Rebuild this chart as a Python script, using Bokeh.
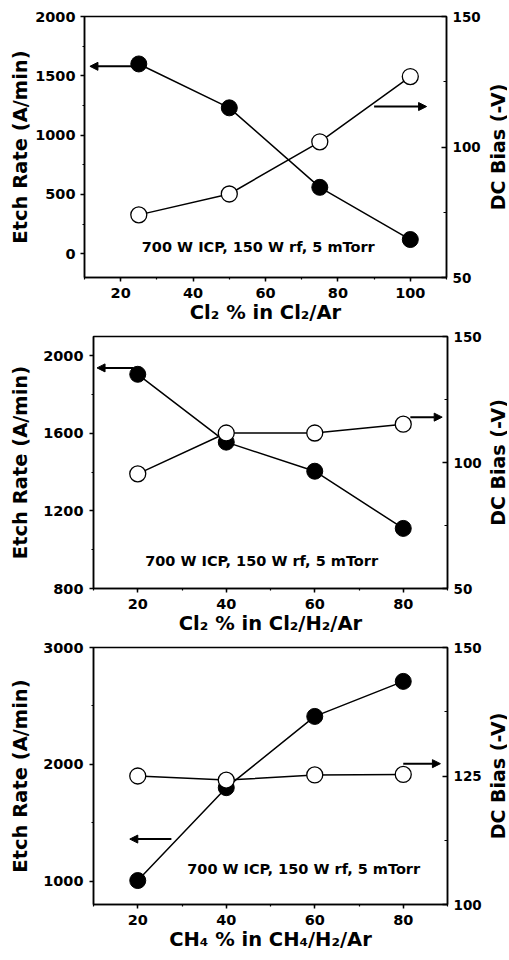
import math
from bokeh.plotting import figure
from bokeh.layouts import row
from bokeh.models import Range1d, LinearAxis, SingleIntervalTicker, Arrow, NormalHead
from bokeh.core.properties import value
from bokeh.embed import file_html
from bokeh.resources import INLINE

# ---------------- data ----------------
note = "700 W ICP, 150 W rf, 5 mTorr"
left_title = "Etch Rate (A/min)"
right_title = "DC Bias (-V)"

# panel 1: Cl2 % in Cl2/Ar
p1_x = [25, 50, 75, 100]
p1_etch = [1600, 1230, 560, 120]
p1_bias = [74, 82, 102, 127]

# panel 2: Cl2 % in Cl2/H2/Ar
p2_x = [20, 40, 60, 80]
p2_etch = [1905, 1555, 1405, 1110]
p2_bias = [95.5, 111.7, 111.7, 115.2]

# panel 3: CH4 % in CH4/H2/Ar
p3_x = [20, 40, 60, 80]
p3_etch = [1005, 1800, 2410, 2710]
p3_bias = [125.0, 124.2, 125.2, 125.3]

# arrows (x_start, x_end, y) in data units
p1_arrow_left = (23.6, 11.5, 1580)
p1_arrow_right = (90, 104.5, 115.5)
p2_arrow_left = (19, 10.8, 1938)
p2_arrow_right = (81.6, 88.8, 118)
p3_arrow_left = (27.6, 18.2, 1360)
p3_arrow_right = (80, 88.4, 127.4)

FONT = "DejaVu Sans"
STRIP_W = 20


def panel(xs, etch, bias, xr, yl, yr, xint, yint, rint, xlabel,
          arr_l, arr_r, note_xy, width, fh, mb_left, mb_right, mb_top, mb_bottom,
          ylab_standoff, ytick_standoff):
    height = mb_top + fh + mb_bottom
    p = figure(width=width, height=height, x_range=Range1d(*xr), y_range=Range1d(*yl),
               output_backend="svg", toolbar_location=None,
               min_border_left=mb_left, min_border_right=mb_right,
               min_border_top=mb_top, min_border_bottom=mb_bottom)
    p.background_fill_color = "white"
    p.border_fill_color = "white"
    p.outline_line_color = "black"
    p.outline_line_width = 1.5
    p.xgrid.visible = False
    p.ygrid.visible = False

    p.extra_y_ranges = {"bias": Range1d(*yr)}
    raxis = LinearAxis(y_range_name="bias",
                       ticker=SingleIntervalTicker(interval=rint, num_minor_ticks=2))
    p.add_layout(raxis, "right")

    p.xaxis.ticker = SingleIntervalTicker(interval=xint, num_minor_ticks=2)
    p.yaxis[0].ticker = SingleIntervalTicker(interval=yint, num_minor_ticks=2)
    p.xaxis.axis_label = xlabel
    p.yaxis[0].axis_label = left_title

    for ax in [p.xaxis[0], p.yaxis[0], raxis]:
        ax.axis_line_width = 1.5
        ax.axis_line_color = "black"
        ax.major_tick_line_width = 1.5
        ax.minor_tick_line_width = 1.2
        ax.major_label_text_font = FONT
        ax.major_label_text_font_style = "bold"
        ax.major_label_text_font_size = "14.5px"
        ax.major_label_text_color = "black"
        ax.axis_label_text_font = FONT
        ax.axis_label_text_font_style = "bold"
        ax.axis_label_text_font_size = "19.5px"
        ax.axis_label_text_color = "black"

    p.xaxis.major_tick_in = 0
    p.xaxis.major_tick_out = 4
    p.xaxis.minor_tick_in = 0
    p.xaxis.minor_tick_out = 2
    p.xaxis.major_label_standoff = 6
    p.xaxis.axis_label_standoff = 0

    ly = p.yaxis[0]
    ly.major_tick_in = 0
    ly.major_tick_out = 4
    ly.minor_tick_in = 0
    ly.minor_tick_out = 2
    ly.major_label_standoff = ytick_standoff
    ly.axis_label_standoff = ylab_standoff

    raxis.major_tick_in = 5
    raxis.major_tick_out = 0
    raxis.minor_tick_in = 3
    raxis.minor_tick_out = 0
    raxis.major_label_standoff = 6
    raxis.major_label_text_font_size = "13.5px"

    # etch rate (filled)
    p.line(xs, etch, line_color="black", line_width=1.5)
    p.scatter(xs, etch, size=16, fill_color="black", line_color="black")
    # dc bias (open)
    p.line(xs, bias, line_color="black", line_width=1.5, y_range_name="bias")
    p.scatter(xs, bias, size=16, fill_color="white", line_color="black",
              line_width=1.3, y_range_name="bias")

    p.add_layout(Arrow(end=NormalHead(size=8, fill_color="black", line_color="black"),
                       x_start=arr_l[0], x_end=arr_l[1], y_start=arr_l[2], y_end=arr_l[2],
                       line_width=2, line_color="black"))
    p.add_layout(Arrow(end=NormalHead(size=8, fill_color="black", line_color="black"),
                       x_start=arr_r[0], x_end=arr_r[1], y_start=arr_r[2], y_end=arr_r[2],
                       line_width=2, line_color="black", y_range_name="bias"))

    p.text(x=[note_xy[0]], y=[note_xy[1]], text=[note], text_font=value(FONT),
           text_font_style="bold", text_font_size="14.5px", text_color="black",
           text_align="center", text_baseline="middle")

    # strip holding the right-hand axis title, reading bottom-to-top
    s = figure(width=STRIP_W, height=height, x_range=Range1d(0, 1), y_range=Range1d(0, 1),
               output_backend="svg", toolbar_location=None,
               min_border_left=0, min_border_right=0,
               min_border_top=mb_top, min_border_bottom=mb_bottom)
    s.axis.visible = False
    s.xgrid.visible = False
    s.ygrid.visible = False
    s.outline_line_color = None
    s.background_fill_color = "white"
    s.border_fill_color = "white"
    s.text(x=[0.5], y=[0.5], text=[right_title], angle=math.pi / 2,
           text_font=value(FONT), text_font_style="bold", text_font_size="19px",
           text_color="black", text_align="center", text_baseline="middle")
    return row(p, s, spacing=0)


r1 = panel(p1_x, p1_etch, p1_bias, (10, 110), (-200, 2000), (50, 150), 20, 500, 50,
           "Cl\u2082 % in Cl\u2082/Ar", p1_arrow_left, p1_arrow_right, (58, 60),
           487, 261, 84, 41, 16, 53, 0, 5)
r2 = panel(p2_x, p2_etch, p2_bias, (10, 90), (800, 2100), (50, 150), 20, 400, 50,
           "Cl\u2082 % in Cl\u2082/H\u2082/Ar", p2_arrow_left, p2_arrow_right, (48, 940),
           487, 252, 93, 40, 6, 53, 8, 6)
r3 = panel(p3_x, p3_etch, p3_bias, (10, 90), (800, 3000), (100, 150), 20, 1000, 25,
           "CH\u2084 % in CH\u2084/H\u2082/Ar", p3_arrow_left, p3_arrow_right, (57.5, 1103),
           487, 257, 93, 40, 6, 52, 8, 6)

open("out.html", "w").write(file_html([r1, r2, r3], INLINE))
